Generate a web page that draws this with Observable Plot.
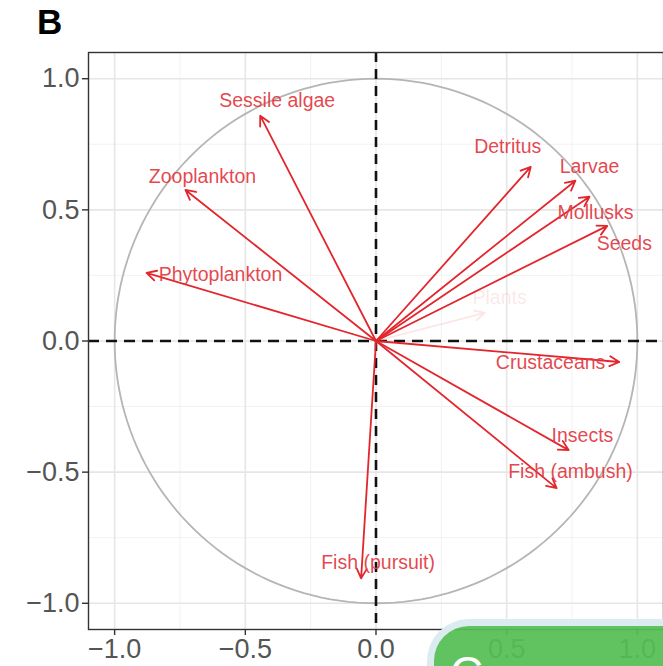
<!DOCTYPE html>
<html>
<head>
<meta charset="utf-8">
<script src="https://cdn.jsdelivr.net/npm/d3@7"></script>
<script src="https://cdn.jsdelivr.net/npm/@observablehq/plot@0.6"></script>
<style>
  html, body { margin: 0; padding: 0; background: #fff; overflow: hidden; }
  #wrap { position: relative; width: 663px; height: 666px; font-family: "Liberation Sans", Arial, sans-serif; }
  #panel { height: 40px; line-height: 44px; padding-left: 37px; font-size: 35px; font-weight: bold; color: #000; }
  #badge { position: absolute; left: 427px; top: 619px; width: 320px; height: 90px; border-radius: 42px;
           background: rgba(84, 190, 84, 0.93); border: 7px solid rgba(225, 238, 248, 0.95); box-sizing: border-box; }
  #badge span { position: absolute; left: 16px; top: 20px; color: #fff; font-size: 46px; font-variant: small-caps; letter-spacing: 1px; font-family: "Liberation Sans", Arial, sans-serif; }
</style>
</head>
<body>
<div id="wrap">
  <div id="panel">B</div>
  <div id="chart"></div>
  <div id="badge"><span>Competiti</span></div>
</div>
<script>
const variables = ["Sessile algae", "Zooplankton", "Phytoplankton", "Detritus", "Larvae", "Mollusks", "Seeds", "Plants", "Crustaceans", "Insects", "Fish (ambush)", "Fish (pursuit)"];
const dim1 = [-0.443, -0.729, -0.878, 0.592, 0.763, 0.817, 0.885, 0.416, 0.931, 0.737, 0.691, -0.057];
const dim2 = [0.859, 0.576, 0.260, 0.664, 0.611, 0.550, 0.439, 0.107, -0.080, -0.416, -0.561, -0.905];
const labelX = [-0.378, -0.664, -0.595, 0.504, 0.817, 0.840, 0.950, 0.473, 0.668, 0.790, 0.744, 0.008];
const labelY = [0.916, 0.626, 0.252, 0.740, 0.664, 0.489, 0.370, 0.164, -0.084, -0.363, -0.500, -0.844];
const alphaVals = [1, 1, 1, 1, 1, 1, 1, 0.12, 1, 1, 1, 1];
const ticks = [-1, -0.5, 0, 0.5, 1];
const minorTicks = [-0.75, -0.25, 0.25, 0.75];

const rows = variables.map((v, i) => ({v, x: dim1[i], y: dim2[i], lx: labelX[i], ly: labelY[i], a: alphaVals[i]}));
const circle = d3.range(0, 361, 2).map(t => ({x: Math.cos(t * Math.PI / 180), y: Math.sin(t * Math.PI / 180)}));

const fmt = d => d3.format(".1f")(d);
const red = "#E3262D";
const font = "Liberation Sans, Arial, sans-serif";

const chart = Plot.plot({
  width: 663,
  height: 626,
  marginLeft: 88,
  marginRight: 0,
  marginTop: 12,
  marginBottom: 37,
  style: {fontFamily: font, background: "#fff"},
  x: {domain: [-1.1, 1.1], label: null},
  y: {domain: [-1.1, 1.1], label: null},
  marks: [
    Plot.gridX(minorTicks, {stroke: "#F2F2F2", strokeOpacity: 1, strokeWidth: 1}),
    Plot.gridY(minorTicks, {stroke: "#F2F2F2", strokeOpacity: 1, strokeWidth: 1}),
    Plot.gridX(ticks, {stroke: "#E6E6E6", strokeOpacity: 1, strokeWidth: 1.6}),
    Plot.gridY(ticks, {stroke: "#E6E6E6", strokeOpacity: 1, strokeWidth: 1.6}),
    Plot.line(circle, {x: "x", y: "y", stroke: "#B5B5B5", strokeWidth: 1.8}),
    Plot.ruleX([0], {stroke: "#111", strokeWidth: 2.6, strokeDasharray: "10,7"}),
    Plot.ruleY([0], {stroke: "#111", strokeWidth: 2.6, strokeDasharray: "11,7"}),
    Plot.arrow(rows, {x1: 0, y1: 0, x2: "x", y2: "y", stroke: red, strokeOpacity: "a", strokeWidth: 1.8, headLength: 9, headAngle: 55}),
    Plot.text(rows, {x: "lx", y: "ly", text: "v", fill: "#E33C45", fillOpacity: d => d.a === 1 ? 0.95 : 0.12, fontSize: 19.5, fontFamily: font}),
    Plot.frame({stroke: "#333", strokeWidth: 1.4}),
    Plot.axisX(ticks, {tickFormat: fmt, fontSize: 27, tickSize: 6, tickPadding: 3, color: "#555", stroke: "#333", strokeWidth: 1.4, label: null}),
    Plot.axisY(ticks, {tickFormat: fmt, fontSize: 27, tickSize: 6, tickPadding: 3, color: "#555", stroke: "#333", strokeWidth: 1.4, label: null})
  ]
});
document.getElementById("chart").appendChild(chart);
</script>
</body>
</html>
